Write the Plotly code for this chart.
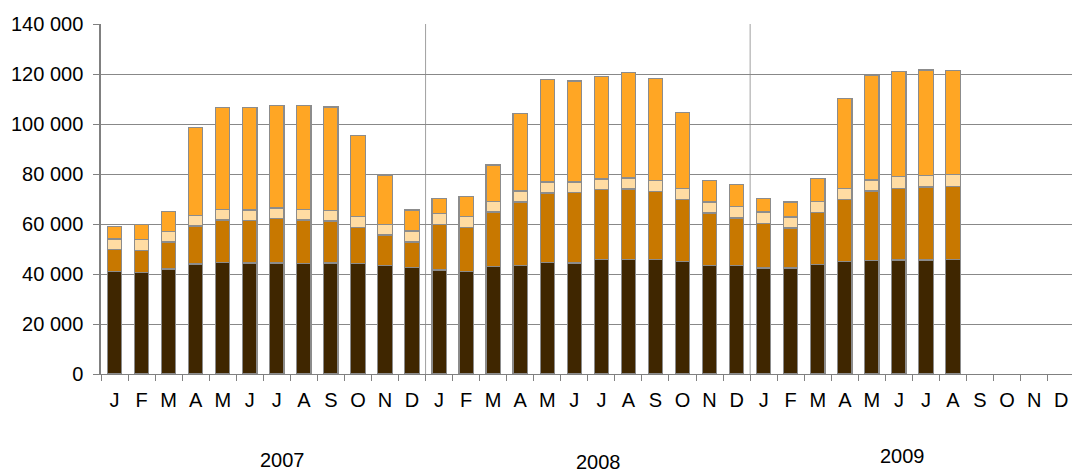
import plotly.graph_objects as go

months = ["J", "F", "M", "A", "M", "J", "J", "A", "S", "O", "N", "D"]
years = ["2007", "2008", "2009"]

# segment values (stacked bottom to top)
dark = [41100, 40700, 42000, 44000, 44500, 44400, 44400, 44300, 44400, 44100, 43500, 42500,
        41600, 41100, 42900, 43500, 44500, 44400, 45700, 45700, 45700, 44900, 43300, 43500,
        42400, 42400, 43700, 44900, 45300, 45600, 45600, 45700]
brown = [8600, 8800, 10800, 15200, 17100, 17100, 17700, 17300, 16800, 14400, 12100, 10300,
         18100, 17500, 21900, 25300, 27900, 28100, 28000, 28300, 27200, 24900, 21100, 18900,
         17700, 16000, 21000, 24800, 27900, 28700, 29200, 29300]
light = [4300, 4300, 4300, 4100, 4300, 4100, 4300, 4100, 4100, 4400, 4300, 4400,
         4500, 4400, 4300, 4400, 4400, 4300, 4300, 4400, 4400, 4400, 4400, 4500,
         4700, 4400, 4300, 4500, 4400, 4700, 4500, 4800]
orange = [5100, 6100, 8000, 35200, 40800, 41100, 40900, 41600, 41500, 32400, 19700, 8400,
          6000, 8000, 14500, 30900, 40900, 40400, 41100, 42300, 40900, 30400, 8500, 8800,
          5500, 6000, 9300, 35900, 41700, 42000, 42300, 41700]

cats = [f"{y}-{i + 1:02d}" for y in years for i in range(len(months))]
labels = [m for y in years for m in months]
n = len(dark)

colors = {"dark": "#3F2600", "brown": "#C87800", "light": "#FFDCA3", "orange": "#FFA624"}
fig = go.Figure()
for name, vals in [("dark", dark), ("brown", brown), ("light", light), ("orange", orange)]:
    fig.add_trace(go.Bar(x=cats[:n], y=vals, name=name, marker_color=colors[name],
                         marker_line_color="#8C8C8C", marker_line_width=1.2,
                         showlegend=False, hoverinfo="skip"))

font = dict(family="Liberation Sans, Arial, sans-serif", size=20, color="#000000")
fig.update_layout(
    width=1072, height=472, barmode="stack", bargap=0.47,
    margin=dict(l=101, r=0, t=24, b=97.5),
    plot_bgcolor="white", paper_bgcolor="white", font=font,
    xaxis=dict(type="category", categoryorder="array", categoryarray=cats,
               range=[-0.5, 35.4], tickmode="array", tickvals=cats, ticktext=labels,
               showgrid=False, showline=True, linecolor="#808080", linewidth=1,
               ticks="outside", ticklen=6, tickcolor="#808080",
               tickson="boundaries", zeroline=False, automargin=False,
               ticklabelstandoff=8, ticklabeloverflow="allow"),
    yaxis=dict(range=[0, 140000], tickvals=list(range(0, 140001, 20000)),
               ticktext=[f"{v:,}".replace(",", " ") for v in range(0, 140001, 20000)],
               showgrid=True, gridcolor="#888888", gridwidth=1,
               showline=True, linecolor="#808080", linewidth=1.5,
               ticks="outside", ticklen=6, tickcolor="#808080", zeroline=False,
               automargin=False, ticklabelstandoff=6),
)
for xb in [11.5, 23.5]:
    fig.add_shape(type="line", xref="x", yref="paper", x0=xb, x1=xb, y0=0, y1=1,
                  line=dict(color="#A0A0A0", width=1), layer="below")
for label, xp, yp in [("2007", 6.2, -0.247), ("2008", 17.9, -0.25), ("2009", 29.15, -0.234)]:
    fig.add_annotation(text=label, x=xp, y=yp, xref="x", yref="paper",
                       showarrow=False, font=font, yanchor="middle")

fig.write_html("out.html", config={"displayModeBar": False},
               post_script="document.body.style.margin='0';document.body.style.overflow='hidden';")
